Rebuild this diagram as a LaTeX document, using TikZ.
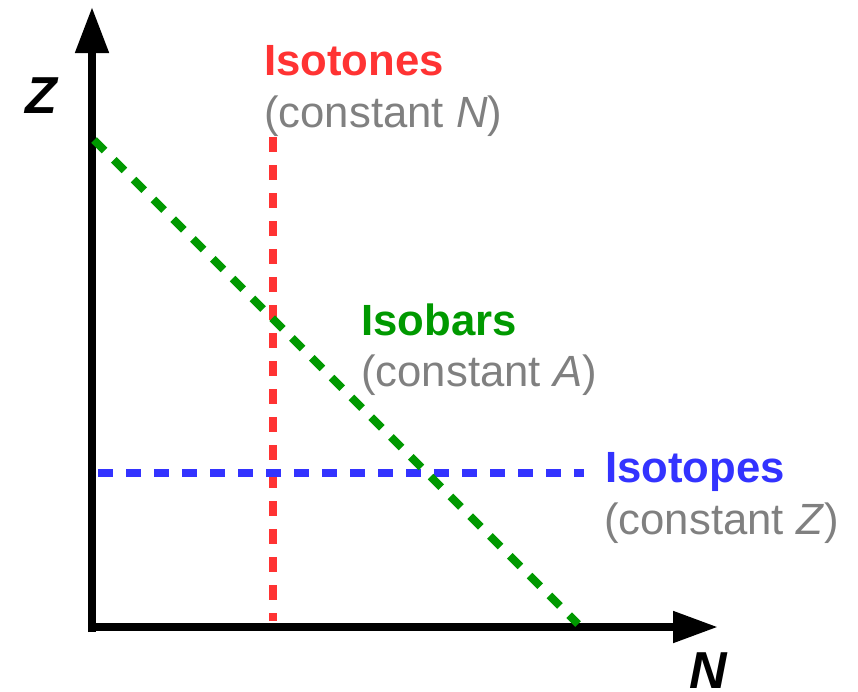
\documentclass[tikz,border=0pt]{standalone}
\usepackage{fontspec}
\setmainfont{Liberation Sans}
\usetikzlibrary{arrows.meta}
\definecolor{isored}{RGB}{255,51,51}
\definecolor{isogreen}{RGB}{0,153,0}
\definecolor{isoblue}{RGB}{51,51,255}
\definecolor{isogray}{RGB}{128,128,128}
\begin{document}
\begin{tikzpicture}[x=1pt,y=-1pt,
  axis/.style={line width=8pt,black},
  dashline/.style={line width=8pt,dash pattern=on 15pt off 13pt},
  title/.style={inner sep=0pt,anchor=base west,font=\fontsize{43.7}{50}\selectfont\bfseries},
  sub/.style={inner sep=0pt,anchor=base west,font=\fontsize{43.7}{50}\selectfont,text=isogray},
  axlabel/.style={inner sep=0pt,anchor=base west,font=\fontsize{52}{60}\selectfont\bfseries\itshape}]
\useasboundingbox (0,0) rectangle (858,691);
% axes
\coordinate (origin) at (92,632);
\coordinate (ytip) at (92,7);
\coordinate (xstart) at (88,627);
\coordinate (xtip) at (718,627);
\draw[axis,-{Triangle[length=46pt,width=32pt]}] (origin) -- (ytip);
\draw[axis,-{Triangle[length=45pt,width=30pt]}] (xstart) -- (xtip);
\node[axlabel] (zlab) at (25,113) {Z};
\node[axlabel] (nlab) at (689,688) {N};
% lines
\coordinate (r1) at (273,137);
\coordinate (r2) at (273,621);
\coordinate (b1) at (98,473);
\coordinate (b2) at (584,473);
\coordinate (g1) at (94,140);
\coordinate (g2) at (578,624);
\draw[dashline,isored] (r1) -- (r2);
\draw[dashline,isoblue] (b1) -- (b2);
\draw[dashline,isogreen] (g1) -- (g2);
% labels
\node[title,text=isored] (isotones) at (264,75) {Isotones};
\node[sub] (cN) at (264,127) {(constant \textit{N})};
\node[title,text=isogreen] (isobars) at (361,335) {Isobars};
\node[sub] (cA) at (361,386) {(constant \textit{A})};
\node[title,text=isoblue] (isotopes) at (605,482) {Isotopes};
\node[sub] (cZ) at (604,534) {(constant \textit{Z})};
\end{tikzpicture}
\end{document}
